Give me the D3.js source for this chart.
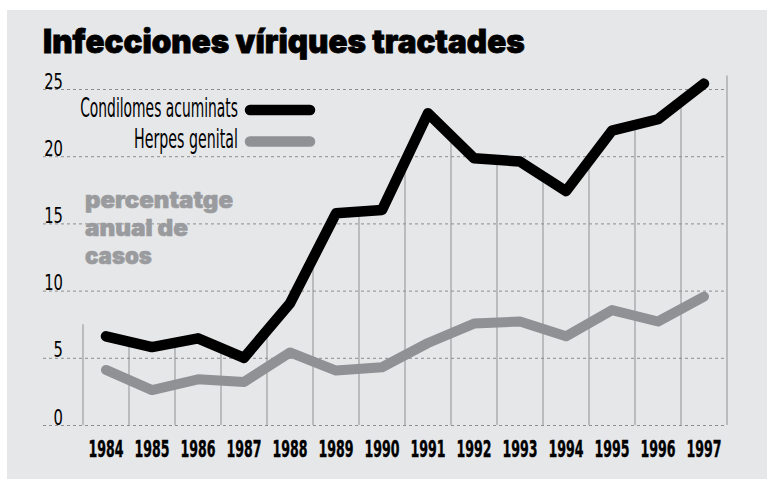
<!DOCTYPE html>
<html>
<head>
<meta charset="utf-8">
<script src="https://cdn.jsdelivr.net/npm/d3@7"></script>
<style>
  html, body { margin: 0; padding: 0; background: #ffffff; }
  svg { display: block; }
</style>
</head>
<body>
<svg id="chart" width="767" height="479"></svg>
<script>
const years = [1984, 1985, 1986, 1987, 1988, 1989, 1990, 1991, 1992, 1993, 1994, 1995, 1996, 1997];
const condilomes = [6.6, 5.8, 6.45, 5.0, 9.05, 15.75, 16.0, 23.2, 19.85, 19.6, 17.4, 21.9, 22.75, 25.4];
const herpes = [4.1, 2.6, 3.4, 3.2, 5.4, 4.05, 4.3, 6.1, 7.55, 7.7, 6.6, 8.55, 7.7, 9.55];
const yTicks = [0, 5, 10, 15, 20, 25];
const seriesNames = ["Condilomes acuminats", "Herpes genital"];
const titleText = "Infecciones víriques tractades";
const noteLines = ["percentatge", "anual de", "casos"];

const svg = d3.select("#chart");
const narrow = "'Liberation Sans Narrow', 'DejaVu Sans Condensed', 'Roboto Condensed', sans-serif";
const heavy = "Inter, Lato, 'Noto Sans', sans-serif";

// squeeze a text horizontally so its width equals target (anchor-aware)
function fitWidth(sel, target) {
  sel.each(function (d, i) {
    const t = d3.select(this);
    const w = this.getComputedTextLength();
    const tw = typeof target === "function" ? target(d, i, this) : target;
    const s = w > 0 ? tw / w : 1;
    const x0 = +t.attr("x") || 0, y0 = +t.attr("y") || 0;
    const prev = t.attr("transform") || "";
    t.attr("x", 0).attr("y", 0)
     .attr("transform", `${prev} translate(${x0},${y0}) scale(${s},1)`);
  });
}

// panel
svg.append("rect").attr("x", 7).attr("y", 10).attr("width", 760).attr("height", 469).attr("fill", "#e6e7e9");

const x = d3.scaleBand().domain(years).range([83, 727]).padding(0);
const y = d3.scaleLinear().domain([0, 25]).range([425, 89]);
const gridLeft = 43, gridRight = 727;

// title
svg.append("text").attr("x", 43).attr("y", 53)
  .attr("font-family", heavy).attr("font-weight", 900).attr("font-size", 32.5)
  .attr("stroke", "#000").attr("stroke-width", 0.8)
  .attr("fill", "#000").text(titleText)
  .call(fitWidth, 482);

// vertical gridlines at band boundaries, rising to the black line
const n = condilomes.length;
const bounds = d3.range(n + 1).map(i => {
  let v;
  if (i === 0) v = condilomes[0] - (condilomes[1] - condilomes[0]) / 2 + 0.5;
  else if (i === n) v = condilomes[n - 1] + (condilomes[n - 1] - condilomes[n - 2]) / 2;
  else v = (condilomes[i - 1] + condilomes[i]) / 2;
  const xp = i < n ? x(years[i]) : x.range()[1];
  return { xp, v: Math.min(v, 26) };
});
svg.append("g").selectAll("line").data(bounds).join("line")
  .attr("x1", d => d.xp).attr("x2", d => d.xp)
  .attr("y1", y(0)).attr("y2", d => y(d.v))
  .attr("stroke", "#a3a4a6").attr("stroke-width", 1.3);

// y axis with dashed gridlines
const yAxis = svg.append("g").attr("transform", `translate(${gridLeft},0)`)
  .call(d3.axisLeft(y).tickValues(yTicks).tickSize(-(gridRight - gridLeft)).tickFormat(d3.format("d")));
yAxis.select(".domain").remove();
yAxis.selectAll(".tick line").attr("stroke", "#8d8e90").attr("stroke-width", 1).attr("stroke-dasharray", "3,3");
yAxis.selectAll(".tick text")
  .attr("x", 20).attr("y", -1).attr("dy", null).attr("text-anchor", "end")
  .attr("font-family", narrow).attr("font-size", 21).attr("fill", "#000")
  .call(fitWidth, (d) => String(d).length * 9.4);

// x axis
const xAxis = svg.append("g").attr("transform", `translate(0,${y(0)})`)
  .call(d3.axisBottom(x).tickSize(0));
xAxis.select(".domain").remove();
xAxis.selectAll(".tick text")
  .attr("x", 0).attr("y", 32).attr("dy", null)
  .attr("font-family", narrow).attr("font-weight", "bold").attr("font-size", 22.5)
  .attr("stroke", "#000").attr("stroke-width", 0.4)
  .attr("fill", "#000")
  .call(fitWidth, 35);

// lines
const line = d3.line().x((d, i) => x(years[i]) + x.bandwidth() / 2).y(d => y(d));
svg.append("path").datum(herpes).attr("d", line)
  .attr("fill", "none").attr("stroke", "#909195").attr("stroke-width", 10)
  .attr("stroke-linecap", "round").attr("stroke-linejoin", "round");
svg.append("path").datum(condilomes).attr("d", line)
  .attr("fill", "none").attr("stroke", "#000").attr("stroke-width", 10.5)
  .attr("stroke-linecap", "round").attr("stroke-linejoin", "round");

// legend
const legend = [
  { name: seriesNames[0], color: "#000", ty: 116.5, ly: 110, tl: 158 },
  { name: seriesNames[1], color: "#909195", ty: 148, ly: 141.5, tl: 104 }
];
const lg = svg.append("g");
lg.selectAll("text").data(legend).join("text")
  .attr("x", 238).attr("y", d => d.ty).attr("text-anchor", "end")
  .attr("font-family", narrow).attr("font-size", 26)
  .attr("fill", "#000").text(d => d.name)
  .call(fitWidth, d => d.tl);
lg.selectAll("line").data(legend).join("line")
  .attr("x1", 250).attr("x2", 310).attr("y1", d => d.ly).attr("y2", d => d.ly)
  .attr("stroke", d => d.color).attr("stroke-width", 10.5).attr("stroke-linecap", "round");

// note
svg.append("g").selectAll("text").data(noteLines).join("text")
  .attr("x", 85).attr("y", (d, i) => 208 + i * 28)
  .attr("font-family", heavy).attr("font-weight", 900).attr("font-size", 23)
  .attr("stroke", "#9a9b9e").attr("stroke-width", 0.6)
  .attr("fill", "#9a9b9e").text(d => d)
  .call(fitWidth, (d, i) => [148, 103, 67][i]);
</script>
</body>
</html>
